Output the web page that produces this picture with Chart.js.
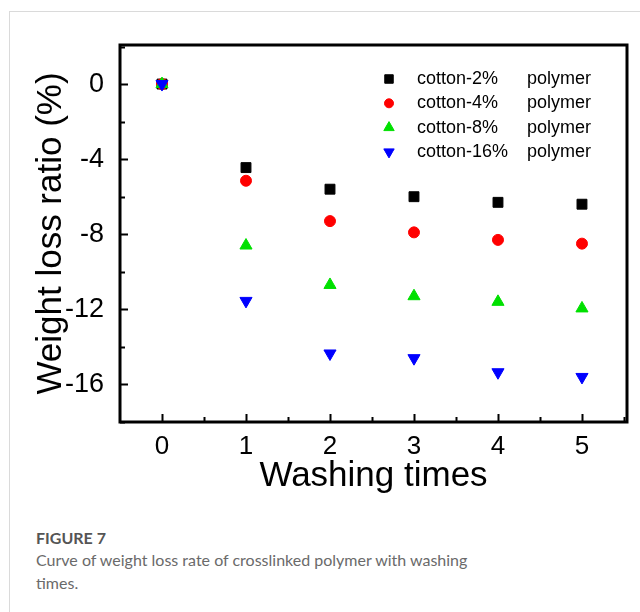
<!DOCTYPE html>
<html>
<head>
<meta charset="utf-8">
<script src="https://cdn.jsdelivr.net/npm/chart.js@4.4.1/dist/chart.umd.min.js"></script>
<style>
  html, body { margin: 0; padding: 0; background: #fff; }
  body { width: 640px; height: 612px; position: relative; overflow: hidden; }
  .card { position: absolute; left: 9px; top: 11px; width: 700px; height: 700px; border: 1px solid #dadada; box-sizing: border-box; }
  .chart-box { position: absolute; left: 10px; top: 12px; width: 630px; height: 488px; }
  .caption { position: absolute; left: 36px; top: 528px; width: 450px; font-family: Lato, 'Open Sans', sans-serif; }
  .caption h4 { margin: 0; font-size: 16px; font-weight: 700; color: #555; line-height: 20px; }
  .caption p { margin: 0; font-size: 16px; color: #6a6a6a; line-height: 23px; }
</style>
</head>
<body>
<div class="card"></div>
<div class="chart-box"><canvas id="lossChart"></canvas></div>
<div class="caption">
  <h4>FIGURE 7</h4>
  <p>Curve of weight loss rate of crosslinked polymer with washing times.</p>
</div>
<script>
// washing cycles and weight loss ratio (%)
const washes = [0, 1, 2, 3, 4, 5];
const cotton2 = [0, -4.45, -5.6, -6.0, -6.3, -6.4];
const cotton4 = [0, -5.15, -7.3, -7.9, -8.3, -8.5];
const cotton8 = [0, -8.6, -10.7, -11.3, -11.6, -11.95];
const cotton16 = [0, -11.55, -14.35, -14.6, -15.35, -15.6];
const seriesLabels = ['cotton-2% polymer', 'cotton-4% polymer', 'cotton-8% polymer', 'cotton-16% polymer'];
const xTicks = [0, 1, 2, 3, 4, 5];
const yTicks = [0, -4, -8, -12, -16];

const fam = "'Liberation Sans', Arial, Helvetica, sans-serif";

function pts(vals) {
  return washes.map((w, i) => ({ x: w, y: vals[i] }));
}

// inward ticks + closed frame, like the origin plot
const framePlugin = {
  id: 'frame',
  afterDraw(chart) {
    const { ctx, chartArea: a, scales } = chart;
    ctx.save();
    ctx.strokeStyle = '#000';
    ctx.lineWidth = 2;
    ctx.beginPath();
    for (let v = -18; v <= 2; v += 2) {
      const y = Math.round(scales.y.getPixelForValue(v)) + 0.5;
      const len = v % 4 === 0 ? 8 : 5;
      ctx.moveTo(a.left, y);
      ctx.lineTo(a.left + len, y);
    }
    for (let v = 0; v <= 5.5; v += 0.5) {
      const x = Math.round(scales.x.getPixelForValue(v)) + 0.5;
      const len = v % 1 === 0 ? 8 : 5;
      ctx.moveTo(x, a.bottom);
      ctx.lineTo(x, a.bottom - len);
    }
    ctx.stroke();
    ctx.lineWidth = 3;
    ctx.strokeRect(a.left, a.top, a.right - a.left, a.bottom - a.top);
    ctx.restore();
  }
};

// legend inside the plot, top right
const legendPlugin = {
  id: 'insideLegend',
  afterDatasetsDraw(chart) {
    const { ctx, chartArea: a } = chart;
    ctx.save();
    ctx.font = '18px ' + fam;
    ctx.textBaseline = 'middle';
    ctx.fillStyle = '#000';
    chart.data.datasets.forEach((ds, i) => {
      const y = a.top + 34 + i * 24.3;
      const mx = a.right - 238;
      ctx.fillStyle = ds.backgroundColor;
      ctx.strokeStyle = ds.borderColor;
      Chart.helpers.drawPoint(ctx, {
        pointStyle: ds.pointStyle,
        radius: ds.legendRadius,
        rotation: ds.rotation || 0,
        borderWidth: 1
      }, mx, y);
      const parts = ds.label.split(' ');
      ctx.fillStyle = '#000';
      ctx.textAlign = 'left';
      ctx.fillText(parts[0], a.right - 210, y);
      ctx.fillText(parts[1], a.right - 100, y);
    });
    ctx.restore();
  }
};

const ctx = document.getElementById('lossChart').getContext('2d');
new Chart(ctx, {
  type: 'scatter',
  data: {
    datasets: [
      { label: seriesLabels[0], data: pts(cotton2), pointStyle: 'rect', pointRadius: 7, legendRadius: 6,
        backgroundColor: '#000', borderColor: '#000', order: 4 },
      { label: seriesLabels[1], data: pts(cotton4), pointStyle: 'circle', pointRadius: 5.5, legendRadius: 4.5,
        backgroundColor: '#ff0000', borderColor: '#ff0000', order: 3 },
      { label: seriesLabels[2], data: pts(cotton8), pointStyle: 'triangle', pointRadius: 7, legendRadius: 6,
        backgroundColor: '#00e000', borderColor: '#00e000', order: 2 },
      { label: seriesLabels[3], data: pts(cotton16), pointStyle: 'triangle', rotation: 180, pointRotation: 180,
        pointRadius: 7, legendRadius: 6, backgroundColor: '#0000ff', borderColor: '#0000ff', order: 1 }
    ]
  },
  options: {
    responsive: true,
    maintainAspectRatio: false,
    animation: false,
    layout: { padding: { left: 0, top: 33, right: 13, bottom: 0 } },
    plugins: { legend: { display: false }, tooltip: { enabled: false } },
    elements: { point: { borderWidth: 1, hoverRadius: 6 } },
    scales: {
      x: {
        type: 'linear',
        min: -0.5,
        max: 5.536,
        afterBuildTicks: s => { s.ticks = xTicks.map(v => ({ value: v })); },
        afterFit: s => { s.height = 78; },
        grid: { display: false },
        border: { display: false },
        ticks: { font: { family: fam, size: 26, lineHeight: 1.2 }, color: '#000', padding: 1,
                 maxRotation: 0, autoSkip: false },
        title: { display: true, text: 'Washing times', color: '#000',
                 font: { family: fam, size: 35, lineHeight: 1 }, padding: { top: 0, bottom: 6 } }
      },
      y: {
        min: -18,
        max: 2.08,
        afterBuildTicks: s => { s.ticks = yTicks.map(v => ({ value: v })); },
        afterFit: s => { s.width = 110; },
        grid: { display: false },
        border: { display: false },
        ticks: { font: { family: fam, size: 27 }, color: '#000', padding: 8, autoSkip: false },
        title: { display: true, text: 'Weight loss ratio (%)', color: '#000',
                 font: { family: fam, size: 35, lineHeight: 1 }, padding: { top: 24, bottom: 0 } }
      }
    }
  },
  plugins: [framePlugin, legendPlugin]
});
</script>
</body>
</html>
